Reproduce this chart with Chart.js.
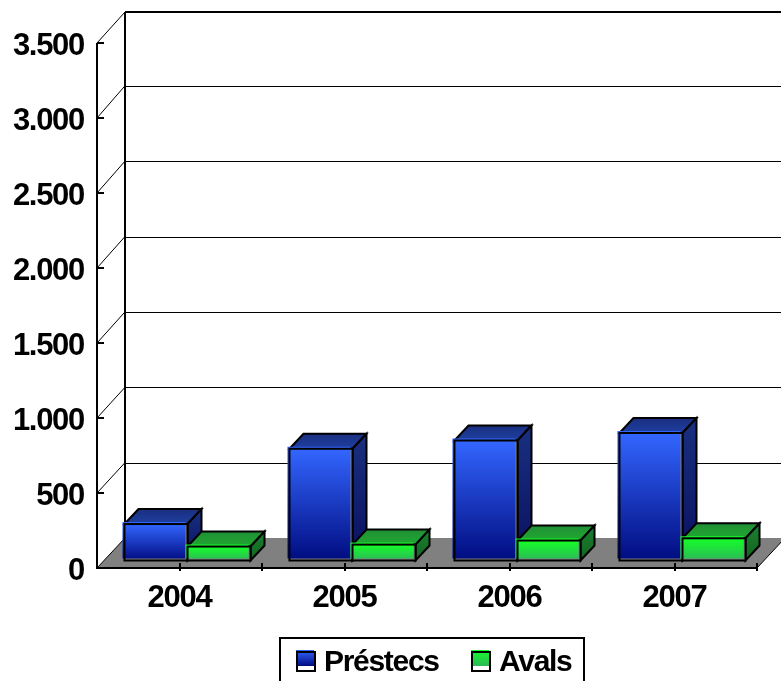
<!DOCTYPE html>
<html>
<head>
<meta charset="utf-8">
<title>Préstecs i avals</title>
<script src="https://cdn.jsdelivr.net/npm/chart.js@4/dist/chart.umd.min.js"></script>
<style>
  html, body { margin: 0; padding: 0; background: #fff; overflow: hidden; }
  canvas { display: block; }
</style>
</head>
<body>
<canvas id="grafic" width="781" height="681"></canvas>
<script>
// Dades llegides del gràfic
const anys = ['2004', '2005', '2006', '2007'];
const prestecs = [243, 745, 800, 850];
const avals = [93, 106, 133, 148];
const marquesY = [0, 500, 1000, 1500, 2000, 2500, 3000, 3500];

const FAMILIA = '"Liberation Sans", Arial, sans-serif';

// Profunditat de la caixa 3D
const FONS_X = 28, FONS_Y = 30;
const BARRA_X = 14, BARRA_Y = 15;

function poligon(ctx, punts, fill, stroke, gruix) {
    ctx.beginPath();
    punts.forEach((p, i) => i ? ctx.lineTo(p[0], p[1]) : ctx.moveTo(p[0], p[1]));
    ctx.closePath();
    if (fill) { ctx.fillStyle = fill; ctx.fill(); }
    if (stroke) { ctx.strokeStyle = stroke; ctx.lineWidth = gruix; ctx.stroke(); }
}

function gradient(ctx, y0, y1, c0, c1) {
    const g = ctx.createLinearGradient(0, y0, 0, y1);
    g.addColorStop(0, c0);
    g.addColorStop(1, c1);
    return g;
}

const colors = [
    { front: ['#3366ff', '#000c80'], dalt: ['#1a2f80', '#1e3fa0'], costat: ['#1a3080', '#0a1060'] },
    { front: ['#14ff28', '#2db858'], dalt: ['#218f35', '#1fa830'], costat: ['#1a8030', '#146420'] }
];

// Terra, paret del fons i eixos
const caixa3d = {
    id: 'caixa3d',
    beforeDraw(chart) {
        // les etiquetes de l'original són més estretes
        chart.ctx.letterSpacing = '-1.3px';
    },
    beforeDatasetsDraw(chart) {
        const { ctx, chartArea: a, scales } = chart;
        const y = scales.y;
        ctx.save();
        poligon(ctx, [[a.left, a.bottom], [a.left + FONS_X, a.bottom - FONS_Y],
            [a.right + FONS_X, a.bottom - FONS_Y], [a.right, a.bottom]], '#808080');

        marquesY.forEach(v => {
            const py = y.getPixelForValue(v);
            // a la paret del fons les línies van una mica més separades
            const fons = v === 3500 ? a.top - 31 : a.bottom - FONS_Y - (a.bottom - py) * 1.005;
            ctx.strokeStyle = '#000';
            ctx.lineWidth = v === 3500 ? 2 : 1;
            if (v > 0) {
                ctx.beginPath();
                ctx.moveTo(a.left + FONS_X, Math.round(fons) + (v === 3500 ? 0 : 0.5));
                ctx.lineTo(781, Math.round(fons) + (v === 3500 ? 0 : 0.5));
                ctx.stroke();
            }
            ctx.lineWidth = 1;
            ctx.beginPath();
            ctx.moveTo(a.left, py);
            ctx.lineTo(a.left + FONS_X, fons);
            ctx.stroke();
            ctx.lineWidth = 2;
            ctx.beginPath();
            ctx.moveTo(a.left, py);
            ctx.lineTo(a.left + 7, py);
            ctx.stroke();
        });

        ctx.lineWidth = 2;
        ctx.strokeStyle = '#000';
        ctx.beginPath();
        ctx.moveTo(a.left, a.top);
        ctx.lineTo(a.left, a.bottom);
        ctx.lineTo(a.right, a.bottom);
        ctx.moveTo(a.left + FONS_X, a.top - 31);
        ctx.lineTo(a.left + FONS_X, a.bottom - FONS_Y);
        ctx.stroke();
        ctx.lineWidth = 1;
        ctx.beginPath();
        ctx.moveTo(a.right, a.bottom);
        ctx.lineTo(a.right + FONS_X, a.bottom - FONS_Y);
        ctx.stroke();

        // Marques de l'eix X: centre i límit de cada categoria
        ctx.lineWidth = 2;
        const pas = (a.right - a.left) / (anys.length * 2);
        for (let i = 1; i <= anys.length * 2; i++) {
            const px = Math.round(a.left + pas * i);
            ctx.beginPath();
            ctx.moveTo(px, a.bottom - 5);
            ctx.lineTo(px, a.bottom + 3);
            ctx.stroke();
        }
        ctx.restore();
    },
    afterDatasetsDraw(chart) {
        const { ctx } = chart;
        const dx = 8, dy = FONS_Y / 4;
        ctx.save();
        ctx.lineJoin = 'miter';
        anys.forEach((_, i) => {
            chart.data.datasets.forEach((ds, d) => {
                const el = chart.getDatasetMeta(d).data[i];
                const c = colors[d];
                const x0 = el.x - el.width / 2 + dx, x1 = el.x + el.width / 2 + dx;
                const yT = el.y - dy, yB = el.base - dy;
                // cara de dalt i costat
                poligon(ctx, [[x0, yT], [x0 + BARRA_X, yT - BARRA_Y], [x1 + BARRA_X, yT - BARRA_Y], [x1, yT]],
                    gradient(ctx, yT - BARRA_Y, yT, c.dalt[0], c.dalt[1]), '#000', 2);
                poligon(ctx, [[x1, yT], [x1 + BARRA_X, yT - BARRA_Y], [x1 + BARRA_X, yB - BARRA_Y], [x1, yB]],
                    gradient(ctx, yT - BARRA_Y, yB, c.costat[0], c.costat[1]), '#000', 2);
                // cara frontal: el farciment queda desplaçat respecte de la vora
                ctx.fillStyle = '#808080';
                ctx.fillRect(x0, yT, x1 - x0, yB - yT);
                ctx.fillStyle = gradient(ctx, yT, yB, c.front[0], c.front[1]);
                ctx.fillRect(x0 - 2, yT - 2, x1 - x0, yB - yT);
                ctx.strokeStyle = '#000';
                ctx.lineWidth = 2;
                ctx.strokeRect(x0, yT, x1 - x0, yB - yT);
            });
        });
        ctx.restore();
    },
    afterDraw(chart) {
        const { ctx } = chart;
        ctx.save();
        // Llegenda (tallada per la vora inferior, com a l'original)
        ctx.strokeStyle = '#000';
        ctx.lineWidth = 2;
        ctx.strokeRect(280, 638, 304, 60);
        ctx.font = 'bold 30px ' + FAMILIA;
        ctx.letterSpacing = '-1.3px';
        ctx.textBaseline = 'alphabetic';
        ctx.textAlign = 'left';
        const posicions = [{ m: 297, t: 324 }, { m: 472, t: 499 }];
        chart.data.datasets.forEach((ds, d) => {
            const p = posicions[d];
            ctx.fillStyle = '#fff';
            ctx.fillRect(p.m, 652, 18, 19);
            ctx.fillStyle = gradient(ctx, 650, 666, colors[d].front[0], colors[d].front[1]);
            ctx.fillRect(p.m - 1, 650, 18, 16);
            ctx.strokeRect(p.m, 652, 18, 19);
            ctx.fillStyle = '#000';
            ctx.fillText(ds.label, p.t, 671);
        });
        ctx.restore();
    }
};

new Chart(document.getElementById('grafic'), {
    type: 'bar',
    data: {
        labels: anys,
        datasets: [
            { label: 'Préstecs', data: prestecs, backgroundColor: 'transparent' },
            { label: 'Avals', data: avals, backgroundColor: 'transparent' }
        ]
    },
    options: {
        responsive: false,
        animation: false,
        layout: { padding: { top: 43, right: 24, left: 0, bottom: 0 } },
        categoryPercentage: 0.764,
        barPercentage: 1,
        plugins: { legend: { display: false }, tooltip: { enabled: false } },
        scales: {
            x: {
                afterFit(s) { s.height = 113; },
                grid: { display: false },
                border: { display: false },
                ticks: { color: '#000', font: { family: FAMILIA, size: 31, weight: 'bold' }, padding: 4, maxRotation: 0 }
            },
            y: {
                min: 0,
                max: 3500,
                afterFit(s) { s.width = 97; },
                afterBuildTicks(s) { s.ticks = marquesY.map(v => ({ value: v })); },
                grid: { display: false },
                border: { display: false },
                ticks: {
                    color: '#000',
                    font: { family: FAMILIA, size: 31, weight: 'bold' },
                    padding: 5,
                    labelOffset: 3,
                    callback: v => String(v).replace(/\B(?=(\d{3})+$)/g, '.')
                }
            }
        }
    },
    plugins: [caixa3d]
});
</script>
</body>
</html>
